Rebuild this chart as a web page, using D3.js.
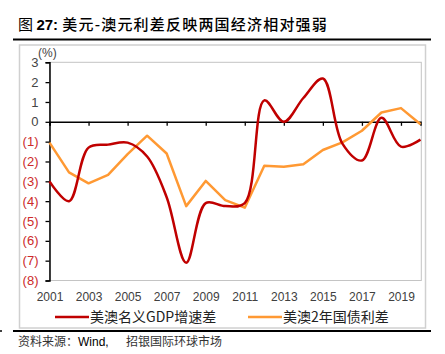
<!DOCTYPE html>
<html>
<head>
<meta charset="utf-8">
<script src="https://cdn.jsdelivr.net/npm/d3@7"></script>
<style>
  body { margin: 0; background: #fff; }
  svg { display: block; }
  text { font-family: "Liberation Sans", Arial, "Noto Sans CJK SC", sans-serif; }
  .cjk { font-family: "Noto Sans CJK SC", sans-serif; }
</style>
</head>
<body>
<svg id="chart"></svg>
<script>
// annual data, 2001 - 2020
const years = d3.range(2001, 2021);
const gdpDiff = [-3.0, -4.0, -1.3, -1.15, -1.05, -1.75, -3.8, -7.1, -4.1, -4.25,
  -4.1, 1.08, 0.0, 1.2, 2.18, -1.1, -1.95, 0.2, -1.25, -0.9];
const bondDiff = [-1.05, -2.55, -3.1, -2.68, -1.63, -0.7, -1.6, -4.25, -2.98, -3.95,
  -4.33, -2.22, -2.27, -2.14, -1.42, -1.04, -0.45, 0.47, 0.69, -0.12];
const xTicks = [2001, 2003, 2005, 2007, 2009, 2011, 2013, 2015, 2017, 2019];
const yTicks = d3.range(-8, 4);
const seriesNames = ["美澳名义GDP增速差", "美澳2年国债利差"];
const seriesColors = ["#c00000", "#ff9933"];

const W = 445, H = 354;
const svg = d3.select("#chart").attr("width", W).attr("height", H);

// title
const title = svg.append("text").attr("x", 18).attr("y", 30)
  .style("font-size", "15px").attr("fill", "#000");
title.append("tspan").attr("class", "cjk").text("图 ");
title.append("tspan").style("font-weight", "bold").text("27: ");
title.append("tspan").attr("class", "cjk").style("letter-spacing", "1.2px")
  .style("font-weight", "500").text("美元-澳元利差反映两国经济相对强弱");

// thick rules top and bottom
svg.append("line").attr("x1", 13).attr("x2", 431).attr("y1", 39.5).attr("y2", 39.5)
  .attr("stroke", "#000").attr("stroke-width", 2.2);
svg.append("line").attr("x1", 13).attr("x2", 431).attr("y1", 331).attr("y2", 331)
  .attr("stroke", "#000").attr("stroke-width", 2.2);
svg.append("line").attr("x1", 0).attr("x2", 2).attr("y1", 331).attr("y2", 331)
  .attr("stroke", "#000").attr("stroke-width", 1.5);

// outer chart box
svg.append("rect").attr("x", 19.5).attr("y", 45).attr("width", 406).attr("height", 283)
  .attr("fill", "none").attr("stroke", "#d0d0d0").attr("stroke-width", 1.5);

const x = d3.scaleLinear().domain([2001, 2020]).range([49.5, 420.5]);
const y = d3.scaleLinear().domain([-8, 3]).range([280.5, 62.3]);

// plot area border
svg.append("rect").attr("x", x(2001)).attr("y", y(3))
  .attr("width", 421.3 - x(2001)).attr("height", y(-8) - y(3))
  .attr("fill", "none").attr("stroke", "#c4c4c4").attr("stroke-width", 1);

// y axis
const yAxis = svg.append("g").attr("transform", `translate(${x(2001)},0)`)
  .call(d3.axisLeft(y).tickValues(yTicks).tickSize(4).tickPadding(7)
    .tickFormat(d => d < 0 ? `(${-d})` : d));
yAxis.select(".domain").attr("stroke", "#000").attr("stroke-width", 1.5);
yAxis.selectAll(".tick line").attr("stroke", "#000").attr("stroke-width", 1.3);
yAxis.selectAll(".tick text").style("font-size", "13px")
  .attr("fill", d => d < 0 ? "#cc2a2a" : "#444");

svg.append("text").attr("x", 38).attr("y", 57).style("font-size", "12px")
  .attr("fill", "#444").text("(%)");

// zero line with ticks
const xAxis = svg.append("g").attr("transform", `translate(0,${y(0)})`)
  .call(d3.axisBottom(x).tickValues(xTicks).tickSize(4).tickFormat(""));
xAxis.select(".domain").attr("stroke", "#000").attr("stroke-width", 1.5);
xAxis.selectAll(".tick line").attr("stroke", "#000").attr("stroke-width", 1.3);

// year labels at bottom
const xLab = svg.append("g").attr("transform", `translate(0,${y(-8)})`)
  .call(d3.axisBottom(x).tickValues(xTicks).tickSize(0).tickPadding(12).tickFormat(d3.format("d")));
xLab.select(".domain").remove();
xLab.selectAll(".tick text").style("font-size", "12px").attr("fill", "#404040");

// lines
const line = d3.line().x((d, i) => x(years[i])).y(d => y(d)).curve(d3.curveCatmullRom.alpha(0.5));
svg.append("path").datum(bondDiff).attr("d", d3.line().x((d, i) => x(years[i])).y(d => y(d)))
  .attr("fill", "none").attr("stroke", seriesColors[1]).attr("stroke-width", 2.5)
  .attr("stroke-linejoin", "round");
svg.append("path").datum(gdpDiff).attr("d", line)
  .attr("fill", "none").attr("stroke", seriesColors[0]).attr("stroke-width", 2.5);

// legend
const legendX = [55, 248];
seriesNames.forEach((name, i) => {
  const g = svg.append("g").attr("transform", `translate(${legendX[i]},317)`);
  g.append("line").attr("x1", 0).attr("x2", 34).attr("stroke", seriesColors[i]).attr("stroke-width", 2.5);
  g.append("text").attr("class", "cjk").attr("x", 35).attr("y", 5)
    .style("font-size", "14px").attr("fill", "#222").text(name);
});

// source
const src = svg.append("text").attr("x", 18).attr("y", 346).style("font-size", "12px").attr("fill", "#333");
src.append("tspan").attr("class", "cjk").text("资料来源：");
src.append("tspan").attr("fill", "#000").text("Wind, ");
src.append("tspan").attr("class", "cjk").attr("x", 126).text("招银国际环球市场");
</script>
</body>
</html>
